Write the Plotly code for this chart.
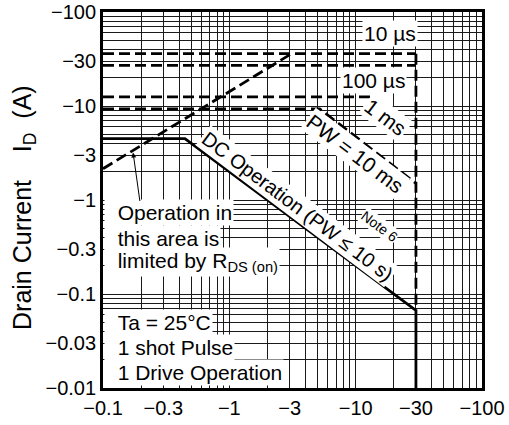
import plotly.graph_objects as go

# ---------------- data ----------------
tick_vals = [0.1, 0.3, 1, 3, 10, 30, 100]
x_tick_text = ["−0.1", "−0.3", "−1", "−3", "−10", "−30", "−100"]
y_tick_vals = [0.01, 0.03, 0.1, 0.3, 1, 3, 10, 30, 100]
y_tick_text = ["−0.01", "−0.03", "−0.1", "−0.3", "−1", "−3", "−10", "−30", "−100"]

pw10us_v = [0.1, 30]
pw10us_i = [36, 36]
pw100us_v = [0.1, 30]
pw100us_i = [27, 27]
pw1ms_v = [0.1, 13.5, 30]
pw1ms_i = [12.5, 12.5, 6.3]
pw10ms_v = [0.1, 5.2, 30]
pw10ms_i = [9.3, 9.3, 1.5]
limit_v = [30, 30]
limit_i = [36, 0.067]
dc_v = [0.1, 0.445, 30, 30]
dc_i = [4.5, 4.5, 0.067, 0.01]
rds_v = [0.1, 3.1]
rds_i = [2.15, 36]

# ---------------- layout helpers ----------------
L, R, T, B = 103, 482, 12, 388
W_PX, H_PX = 509, 425


def px(x):
    return (x - L) / (R - L)


def py(y):
    return (B - y) / (B - T)


FONT = "Liberation Sans, Arial, Helvetica, sans-serif"
minor_vals = []
for d in [0.01, 0.1, 1, 10]:
    for k in range(2, 10):
        minor_vals.append(round(k * d, 6))

fig = go.Figure()
dash = "11px,5px"
line_dash = dict(color="black", width=2.8, dash=dash)
for v, i in [(pw10us_v, pw10us_i), (pw100us_v, pw100us_i), (pw1ms_v, pw1ms_i),
             (pw10ms_v, pw10ms_i), (limit_v, limit_i), (rds_v, rds_i)]:
    fig.add_trace(go.Scatter(x=v, y=i, mode="lines", line=line_dash,
                             hoverinfo="skip", showlegend=False))
fig.add_trace(go.Scatter(x=dc_v, y=dc_i, mode="lines",
                         line=dict(color="black", width=2.8),
                         hoverinfo="skip", showlegend=False))

grid_col = "#1a1a1a"
axis_common = dict(
    type="log", showgrid=True, gridcolor=grid_col, gridwidth=1,
    showline=True, mirror=True, linecolor="black", linewidth=2.8,
    ticks="", zeroline=False,
    tickfont=dict(family=FONT, size=20, color="black"),
)
fig.update_xaxes(range=[-1, 2], tickvals=tick_vals, ticktext=x_tick_text,
                 minor=dict(tickvals=[v for v in minor_vals if v >= 0.1],
                            showgrid=True, gridcolor=grid_col, gridwidth=1),
                 **axis_common)
fig.update_yaxes(range=[-2, 2], tickvals=y_tick_vals, ticktext=y_tick_text,
                 minor=dict(tickvals=minor_vals, showgrid=True,
                            gridcolor=grid_col, gridwidth=1),
                 **axis_common)

ann = []


def label(text, xc, yc, size=21, angle=0, xanchor="center", pad=1):
    ann.append(dict(text=text, xref="paper", yref="paper", x=px(xc), y=py(yc),
                    xanchor=xanchor, yanchor="middle", showarrow=False,
                    textangle=angle, bgcolor="white", borderpad=pad,
                    font=dict(family=FONT, size=size, color="black")))


label("10 µs", 390, 34)
label("100 µs", 373, 81)
label("1 ms", 386, 117, angle=37)
label("PW = 10 ms", 355, 153, angle=37)
label("DC Operation (PW ≤ 10 s)", 297, 206, size=20, angle=37)
label("Note 6", 379, 226, size=14, angle=37, pad=0)
nb = "\u00a0\u00a0"
label(nb + "Operation in", 104, 213, xanchor="left")
label(nb + "this area is", 104, 238, xanchor="left")
label(nb + "limited by R<sub>DS (on)</sub>", 104, 262, xanchor="left")
label(nb + "Ta = 25°C", 104, 322, xanchor="left")
label(nb + "1 shot Pulse", 104, 347, xanchor="left")
label(nb + "1 Drive Operation", 104, 372, xanchor="left")

# arrow pointing at the R_DS(on) limit line
ann.append(dict(x=-0.762, y=0.505, xref="x", yref="y", text="",
                showarrow=True, ax=7, ay=50, arrowhead=2, arrowsize=1,
                arrowwidth=1, arrowcolor="black"))

ann.append(dict(text="Drain Current" + "\u00a0" * 4 + "I<sub>D</sub>" + "\u00a0" * 2 + "(A)",
                xref="paper", yref="paper", x=0, xshift=-79, y=py(208),
                xanchor="center", yanchor="middle", showarrow=False,
                textangle=-90,
                font=dict(family=FONT, size=25, color="black")))

fig.update_layout(
    width=W_PX, height=H_PX,
    margin=dict(l=L, r=W_PX - R, t=T, b=H_PX - B, autoexpand=False),
    paper_bgcolor="white", plot_bgcolor="white",
    annotations=ann, showlegend=False,
)
fig.write_html("out.html")
